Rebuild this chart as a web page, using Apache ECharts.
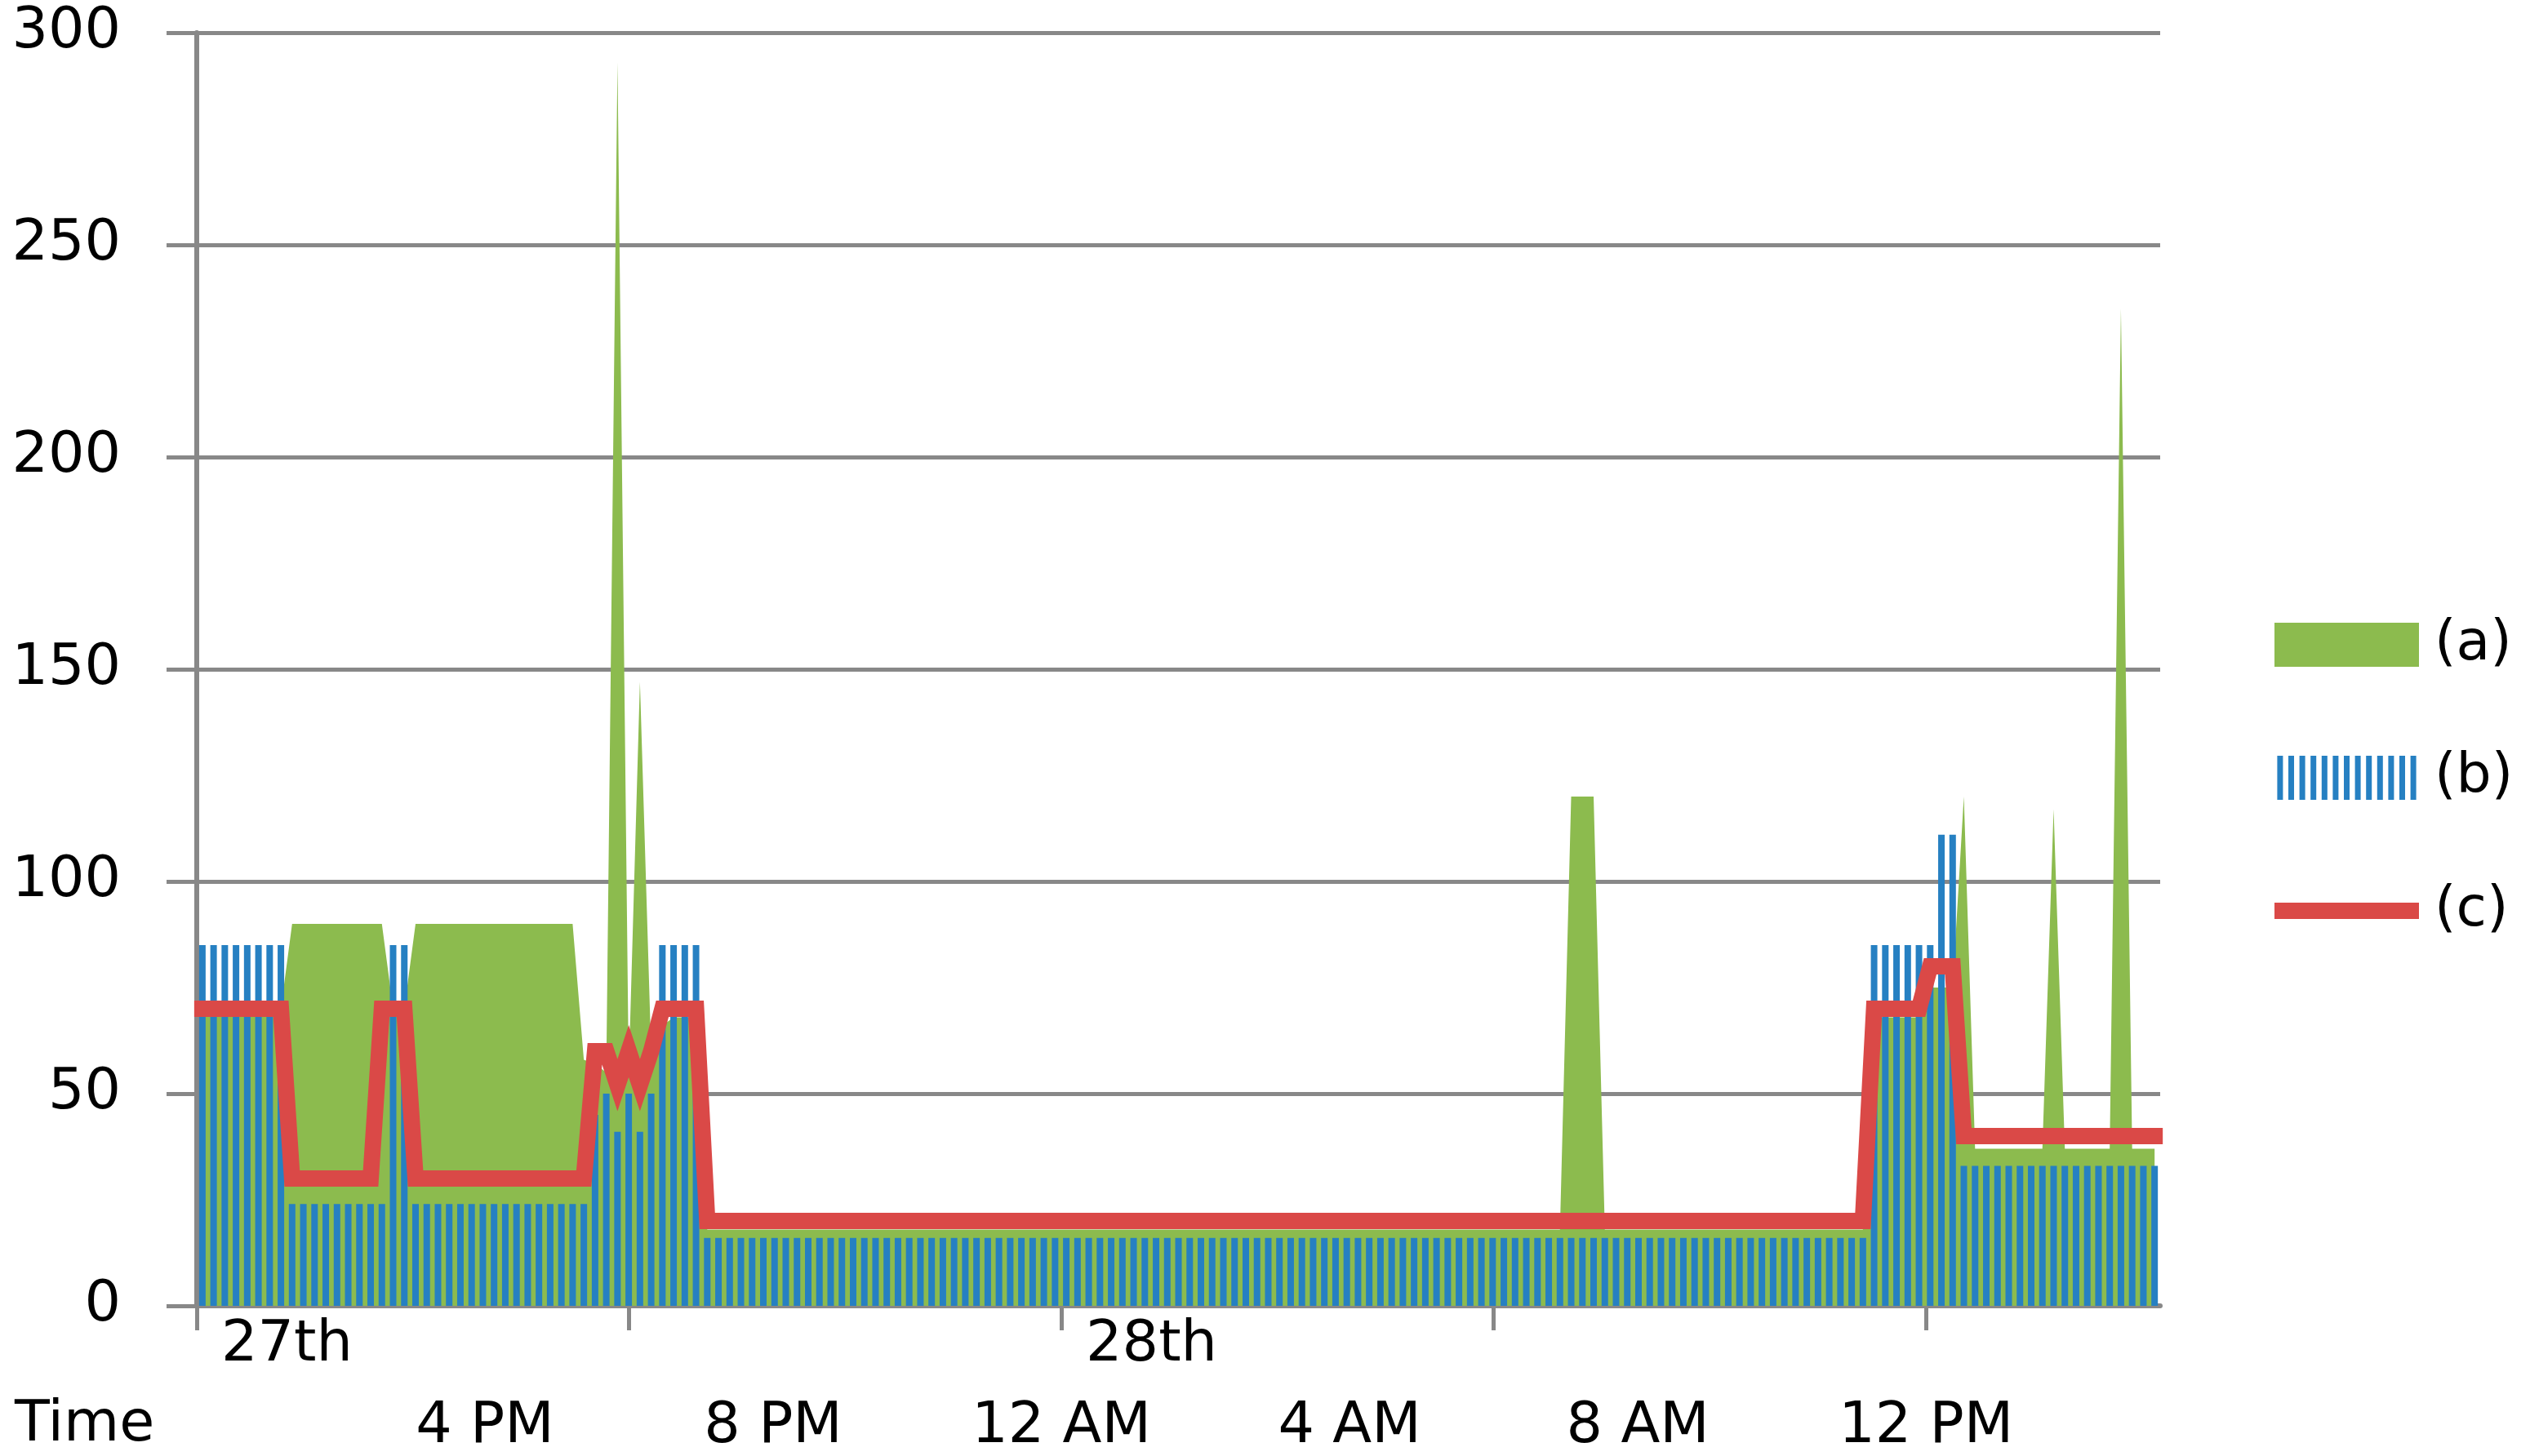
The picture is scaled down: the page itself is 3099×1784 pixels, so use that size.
<!DOCTYPE html>
<html>
<head>
<meta charset="utf-8">
<style>
  html, body { margin: 0; padding: 0; background: #ffffff; }
  #chart { width: 3099px; height: 1784px; }
</style>
<script src="https://cdn.jsdelivr.net/npm/echarts@6/dist/echarts.min.js"></script>
</head>
<body>
<div id="chart"></div>
<script>
// ---------------- DATA ----------------
// Samples start 12:00 PM on the 27th; one sample about every 9.34 minutes.
const AXIS_END_MIN = 1635;          // 3:15 PM on the 28th
const SAMPLE_STEP_MIN = 9.343;

// (a) green area
const seriesA = [
  70,70,70,70,70,70,70,70,
  90,90,90,90,90,90,90,90,90,
  70,70,
  90,90,90,90,90,90,90,90,90,90,90,90,90,90,90,
  58,57,55,293,55,147,60,66,68,68,68,
  18,18,18,18,18,18,18,18,18,18,
  18,18,18,18,18,18,18,18,18,18,
  18,18,18,18,18,18,18,18,18,18,
  18,18,18,18,18,18,18,18,18,18,
  18,18,18,18,18,18,18,18,18,18,
  18,18,18,18,18,18,18,18,18,18,
  18,18,18,18,18,18,18,18,18,18,
  18,18,18,18,18,18,18,
  120,120,120,
  18,18,18,18,18,18,18,18,18,18,
  18,18,18,18,18,18,18,18,18,18,
  18,18,18,18,
  68,68,68,68,68,
  75,75,75,
  120,
  37,37,37,37,37,37,37,
  117,
  37,37,37,37,37,
  235,
  37,37,37
];

// (b) blue columns
const seriesB = [
  85,85,85,85,85,85,85,85,
  24,24,24,24,24,24,24,24,24,
  85,85,
  24,24,24,24,24,24,24,24,24,24,24,24,24,24,24,24,
  45,50,41,50,41,50,
  85,85,85,85,
  16,16,16,16,16,16,16,16,16,16,
  16,16,16,16,16,16,16,16,16,16,
  16,16,16,16,16,16,16,16,16,16,
  16,16,16,16,16,16,16,16,16,16,
  16,16,16,16,16,16,16,16,16,16,
  16,16,16,16,16,16,16,16,16,16,
  16,16,16,16,16,16,16,16,16,16,
  16,16,16,16,16,16,16,16,16,16,
  16,16,16,16,16,16,16,16,16,16,
  16,16,16,16,16,16,16,16,16,16,
  16,16,16,16,
  85,85,85,85,85,85,
  111,111,
  33,33,33,33,33,33,33,33,33,33,
  33,33,33,33,33,33,33,33
];

// (c) red line
const seriesC = [
  70,70,70,70,70,70,70,70,
  30,30,30,30,30,30,30,30,
  70,70,70,
  30,30,30,30,30,30,30,30,30,30,30,30,30,30,30,30,
  60,60,52,60,52,60,
  70,70,70,70,
  20,20,20,20,20,20,20,20,20,20,
  20,20,20,20,20,20,20,20,20,20,
  20,20,20,20,20,20,20,20,20,20,
  20,20,20,20,20,20,20,20,20,20,
  20,20,20,20,20,20,20,20,20,20,
  20,20,20,20,20,20,20,20,20,20,
  20,20,20,20,20,20,20,20,20,20,
  20,20,20,20,20,20,20,20,20,20,
  20,20,20,20,20,20,20,20,20,20,
  20,20,20,20,20,20,20,20,20,20,
  20,20,20,20,
  70,70,70,70,70,
  80,80,80,
  40,40,40,40,40,40,40,40,40,40,
  40,40,40,40,40,40,40,40
];

const seriesNames = ['(a)', '(b)', '(c)'];

// Axis text (minutes after 12:00 PM on the 27th)
const tickMinutes = [0, 360, 720, 1080, 1440];
const dayLabelMinutes = [0, 720];
const dayLabels = ['27th', '28th'];
const hourLabelMinutes = [240, 480, 720, 960, 1200, 1440];
const hourLabels = ['4 PM', '8 PM', '12 AM', '4 AM', '8 AM', '12 PM'];
const yTicks = { min: 0, max: 300, interval: 50 };
const axisTitle = 'Time';

// ---------------- STYLE ----------------
const GREEN = '#8CBB4E';
const BLUE = '#2680C2';
const RED = '#DA4947';
const GRAY = '#888888';
const FONT = 'DejaVu Sans';

function pairs(values) {
  return values.map((v, i) => [(i + 0.5) * SAMPLE_STEP_MIN, v]);
}

// legend icon for the striped columns
let stripePath = 'path://';
for (let k = 0; k < 13; k++) {
  const x = (k * 13.6).toFixed(1);
  stripePath += 'M' + x + ',0h7v54h-7z';
}

const chart = echarts.init(document.getElementById('chart'), null, { renderer: 'canvas' });

const option = {
  animation: false,
  backgroundColor: '#ffffff',
  title: {
    text: axisTitle,
    left: 18,
    top: 1712,
    padding: 0,
    textStyle: { fontSize: 70, fontWeight: 'normal', fontFamily: FONT, color: '#000' }
  },
  legend: {
    orient: 'vertical',
    left: 2786,
    top: 756,
    padding: 0,
    itemWidth: 177,
    itemHeight: 54,
    itemGap: 95,
    selectedMode: false,
    itemStyle: { borderWidth: 0 },
    textStyle: { fontSize: 68, fontFamily: FONT, color: '#000', lineHeight: 54, padding: [0, 0, 0, 14] },
    data: [
      { name: seriesNames[0], icon: 'rect' },
      { name: seriesNames[1], icon: stripePath },
      { name: seriesNames[2], icon: 'path://M0,0h177v20h-177z' }
    ]
  },
  grid: { left: 241, right: 453, top: 40, bottom: 184 },
  xAxis: [
    {
      type: 'value',
      min: 0,
      max: AXIS_END_MIN,
      position: 'bottom',
      axisLine: { show: true, onZero: false, lineStyle: { color: GRAY, width: 6 } },
      axisTick: { show: true, customValues: tickMinutes, length: 30, lineStyle: { color: GRAY, width: 5 } },
      splitLine: { show: false },
      axisLabel: {
        customValues: dayLabelMinutes,
        formatter: function (v) {
          const idx = dayLabelMinutes.indexOf(v);
          return idx >= 0 ? dayLabels[idx] : '';
        },
        align: 'left',
        padding: [0, 0, 0, 30],
        margin: 14,
        fontSize: 70,
        fontFamily: FONT,
        color: '#000'
      }
    },
    {
      type: 'value',
      min: 0,
      max: AXIS_END_MIN,
      position: 'bottom',
      axisLine: { show: false },
      axisTick: { show: false },
      splitLine: { show: false },
      axisLabel: {
        customValues: hourLabelMinutes,
        formatter: function (v) {
          const idx = hourLabelMinutes.indexOf(v);
          return idx >= 0 ? hourLabels[idx] : '';
        },
        margin: 114,
        fontSize: 70,
        fontFamily: FONT,
        color: '#000'
      }
    }
  ],
  yAxis: {
    type: 'value',
    min: yTicks.min,
    max: yTicks.max,
    interval: yTicks.interval,
    axisLine: { show: true, lineStyle: { color: GRAY, width: 6 } },
    axisTick: { show: true, length: 37, lineStyle: { color: GRAY, width: 5 } },
    splitLine: { show: true, lineStyle: { color: GRAY, width: 5 } },
    axisLabel: { margin: 93, fontSize: 70, fontFamily: FONT, color: '#000' }
  },
  series: [
    {
      name: seriesNames[0],
      type: 'line',
      xAxisIndex: 0,
      data: pairs(seriesA),
      color: GREEN,
      itemStyle: { color: GREEN },
      showSymbol: false,
      symbol: 'none',
      lineStyle: { width: 0, color: GREEN },
      areaStyle: { color: GREEN, opacity: 1 },
      z: 2
    },
    {
      name: seriesNames[1],
      type: 'bar',
      xAxisIndex: 0,
      data: pairs(seriesB),
      barWidth: 8,
      color: BLUE,
      itemStyle: { color: BLUE },
      z: 3
    },
    {
      name: seriesNames[2],
      type: 'line',
      xAxisIndex: 0,
      data: pairs(seriesC),
      color: RED,
      itemStyle: { color: RED },
      showSymbol: false,
      symbol: 'none',
      lineStyle: { width: 20, color: RED, cap: 'square', join: 'miter' },
      z: 4
    }
  ]
};

chart.setOption(option);
</script>
</body>
</html>
